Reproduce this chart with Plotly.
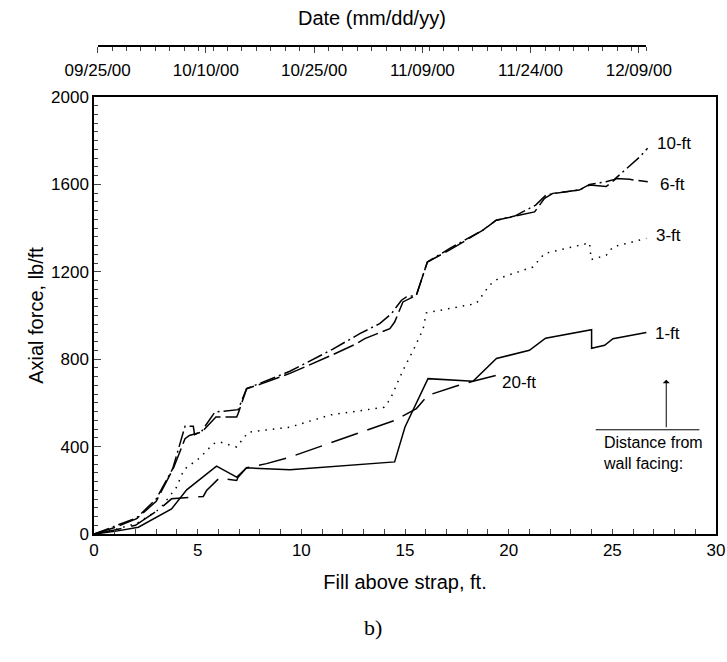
import plotly.graph_objects as go

# ---- data ----
x_1ft = [0, 1.0, 2.14, 3.74, 4.47, 5.91, 6.88, 7.36, 9.45, 14.5, 15.0, 15.15, 16.11, 18.28, 19.41, 21.0, 21.78, 24.0, 24.0, 24.63, 25.03, 26.64]
y_1ft = [0, 12, 31, 115, 202, 311, 260, 303, 294, 330, 490, 520, 711, 699, 803, 841, 896, 935, 850, 864, 894, 922]

x_3ft = [0, 1.0, 2.1, 3.18, 3.98, 4.34, 5.11, 5.75, 6.07, 6.88, 7.44, 9.45, 11.4, 14.0, 14.3, 14.5, 14.9, 15.4, 15.87, 16.03, 18.44, 19.08, 19.5, 20.69, 21.17, 21.73, 23.9, 23.98, 24.71, 25.03, 26.64]
y_3ft = [0, 20, 50, 115, 214, 295, 349, 413, 421, 398, 466, 489, 545, 580, 619, 665, 749, 841, 937, 1012, 1055, 1139, 1169, 1207, 1222, 1284, 1332, 1256, 1276, 1314, 1353]

x_6ft = [0, 1.0, 2.06, 3.0, 3.82, 4.39, 4.6, 5.19, 5.88, 6.88, 6.95, 7.36, 8.0, 9.45, 11.45, 12.66, 13.06, 14.27, 14.5, 14.9, 15.55, 16.08, 17.16, 18.76, 19.4, 20.3, 20.7, 21.25, 21.73, 22.13, 23.4, 23.9, 24.7, 25.2, 25.83, 26.71]
y_6ft = [0, 30, 70, 150, 299, 436, 451, 466, 535, 535, 551, 665, 685, 735, 818, 871, 894, 940, 970, 1062, 1093, 1245, 1300, 1391, 1436, 1455, 1464, 1474, 1536, 1559, 1574, 1597, 1590, 1627, 1623, 1612]

x_10ft = [0, 1.0, 2.06, 3.0, 3.8, 4.39, 4.79, 4.85, 5.19, 5.83, 6.95, 7.36, 8.0, 9.45, 11.5, 12.82, 13.78, 14.35, 14.83, 15.07, 15.55, 16.08, 17.16, 18.76, 19.4, 20.29, 21.3, 21.8, 22.2, 23.4, 23.9, 24.7, 25.1, 26.3, 26.7]
y_10ft = [0, 35, 74, 160, 300, 493, 493, 455, 470, 558, 569, 665, 690, 745, 845, 917, 963, 1009, 1070, 1085, 1093, 1245, 1307, 1391, 1436, 1455, 1505, 1551, 1559, 1574, 1600, 1612, 1623, 1724, 1765]

x_20ft = [0, 1.0, 2.0, 3.18, 3.74, 5.27, 5.43, 6.04, 6.88, 6.95, 7.36, 8.32, 9.45, 14.5, 15.55, 16.11, 17.48, 18.28, 19.4]
y_20ft = [0, 18, 40, 115, 161, 172, 199, 256, 245, 260, 303, 322, 352, 520, 574, 635, 677, 699, 726]

date_range = ["2000-09-25", "2000-12-10"]
series_labels = ["1-ft", "3-ft", "6-ft", "10-ft", "20-ft"]

FONT = "Liberation Sans, Arial, Helvetica, sans-serif"

fig = go.Figure()

styles = [
    (x_1ft, y_1ft, "solid"),
    (x_3ft, y_3ft, "1.5px,6px"),
    (x_6ft, y_6ft, "22px,5px"),
    (x_10ft, y_10ft, "16px,4px,2px,4px"),
    (x_20ft, y_20ft, "28px,10px"),
]
for (xs, ys, dash), name in zip(styles, series_labels):
    fig.add_trace(go.Scatter(x=xs, y=ys, mode="lines", name=name,
                             line=dict(color="black", width=1.5, dash=dash),
                             showlegend=False, hoverinfo="skip"))

# invisible trace that carries the top date axis
fig.add_trace(go.Scatter(x=date_range, y=[None, None], xaxis="x2", yaxis="y",
                         mode="lines", showlegend=False, hoverinfo="skip"))

ydom_top = (534 - 97) / 488.0
DAY = 86400000
PW = 622.0  # plot width in px (94 .. 716)

fig.update_layout(
    width=727, height=662,
    margin=dict(l=94, r=11, t=46, b=128, autoexpand=False),
    paper_bgcolor="white", plot_bgcolor="rgba(0,0,0,0)",
    font=dict(family=FONT, size=17, color="black"),
    xaxis=dict(range=[0, 30], dtick=5, tick0=0, ticks="inside", ticklen=5,
               tickwidth=1.2, showline=True, linewidth=1.5, linecolor="black",
               mirror=True, showgrid=False, zeroline=False, automargin=False,
               minor=dict(dtick=1, ticks="inside", ticklen=5, tickwidth=1.2, showgrid=False),
               title=dict(text="Fill above strap, ft.", standoff=16,
                          font=dict(size=20)),
               tickfont=dict(size=17, color="black")),
    yaxis=dict(range=[0, 2000], domain=[0, ydom_top], dtick=400, tick0=0,
               ticks="inside", ticklen=7, tickwidth=1.2, showline=True,
               linewidth=1.5, linecolor="black", mirror=True, showgrid=False,
               zeroline=False, automargin=False,
               minor=dict(dtick=40, ticks="inside", ticklen=4, tickwidth=1, showgrid=False),
               title=dict(text="Axial force, lb/ft", standoff=2, font=dict(size=20)),
               tickfont=dict(size=17, color="black")),
    xaxis2=dict(type="date", range=date_range, anchor="free", position=1,
                side="bottom", domain=[(97.7 - 94) / PW, (646 - 94) / PW],
                tick0="2000-09-25", dtick=15 * DAY, tickformat="%m/%d/%y",
                ticks="outside", ticklen=6, tickwidth=1.2, ticklabelstandoff=3,
                showline=True, linewidth=1.5, linecolor="black", automargin=False,
                showgrid=False, zeroline=False,
                minor=dict(tick0="2000-09-25", dtick=2 * DAY, ticks="outside",
                           ticklen=4, tickwidth=1, showgrid=False),
                tickfont=dict(size=17, color="black")),
)

# top axis title
fig.add_annotation(x=(372 - 94) / PW, y=(534 - 18) / 488.0, xref="paper", yref="paper",
                   text="Date (mm/dd/yy)", showarrow=False, xanchor="center",
                   yanchor="middle", font=dict(size=20))

# series labels
lab_pos = {"10-ft": (27.05, 1785), "6-ft": (27.2, 1600), "3-ft": (27.0, 1364),
           "1-ft": (26.95, 917), "20-ft": (19.57, 695)}
for name, (lx, ly) in lab_pos.items():
    fig.add_annotation(x=lx, y=ly, xref="x", yref="y", text=name, showarrow=False,
                       xanchor="left", yanchor="middle", font=dict(size=17))

# "Distance from wall facing:" note with arrow and rule
fig.add_shape(type="line", x0=24.2, x1=29.2, y0=477, y1=477, xref="x", yref="y",
              line=dict(color="black", width=1))
fig.add_annotation(x=27.6, y=706, ax=27.6, ay=482, xref="x", yref="y",
                   axref="x", ayref="y", text="", showarrow=True, arrowhead=1,
                   arrowsize=1.2, arrowwidth=1, arrowcolor="black")
fig.add_annotation(x=24.45, y=468, xref="x", yref="y",
                   text="Distance from<br>wall facing:", showarrow=False,
                   xanchor="left", yanchor="top", align="left", font=dict(size=16))

fig.add_annotation(x=(373 - 94) / PW, y=(534 - 627) / 488.0, xref="paper", yref="paper",
                   text="b)", showarrow=False, xanchor="center", yanchor="middle",
                   font=dict(family="Liberation Serif, Times New Roman, serif", size=22))

fig.write_html("out.html")
